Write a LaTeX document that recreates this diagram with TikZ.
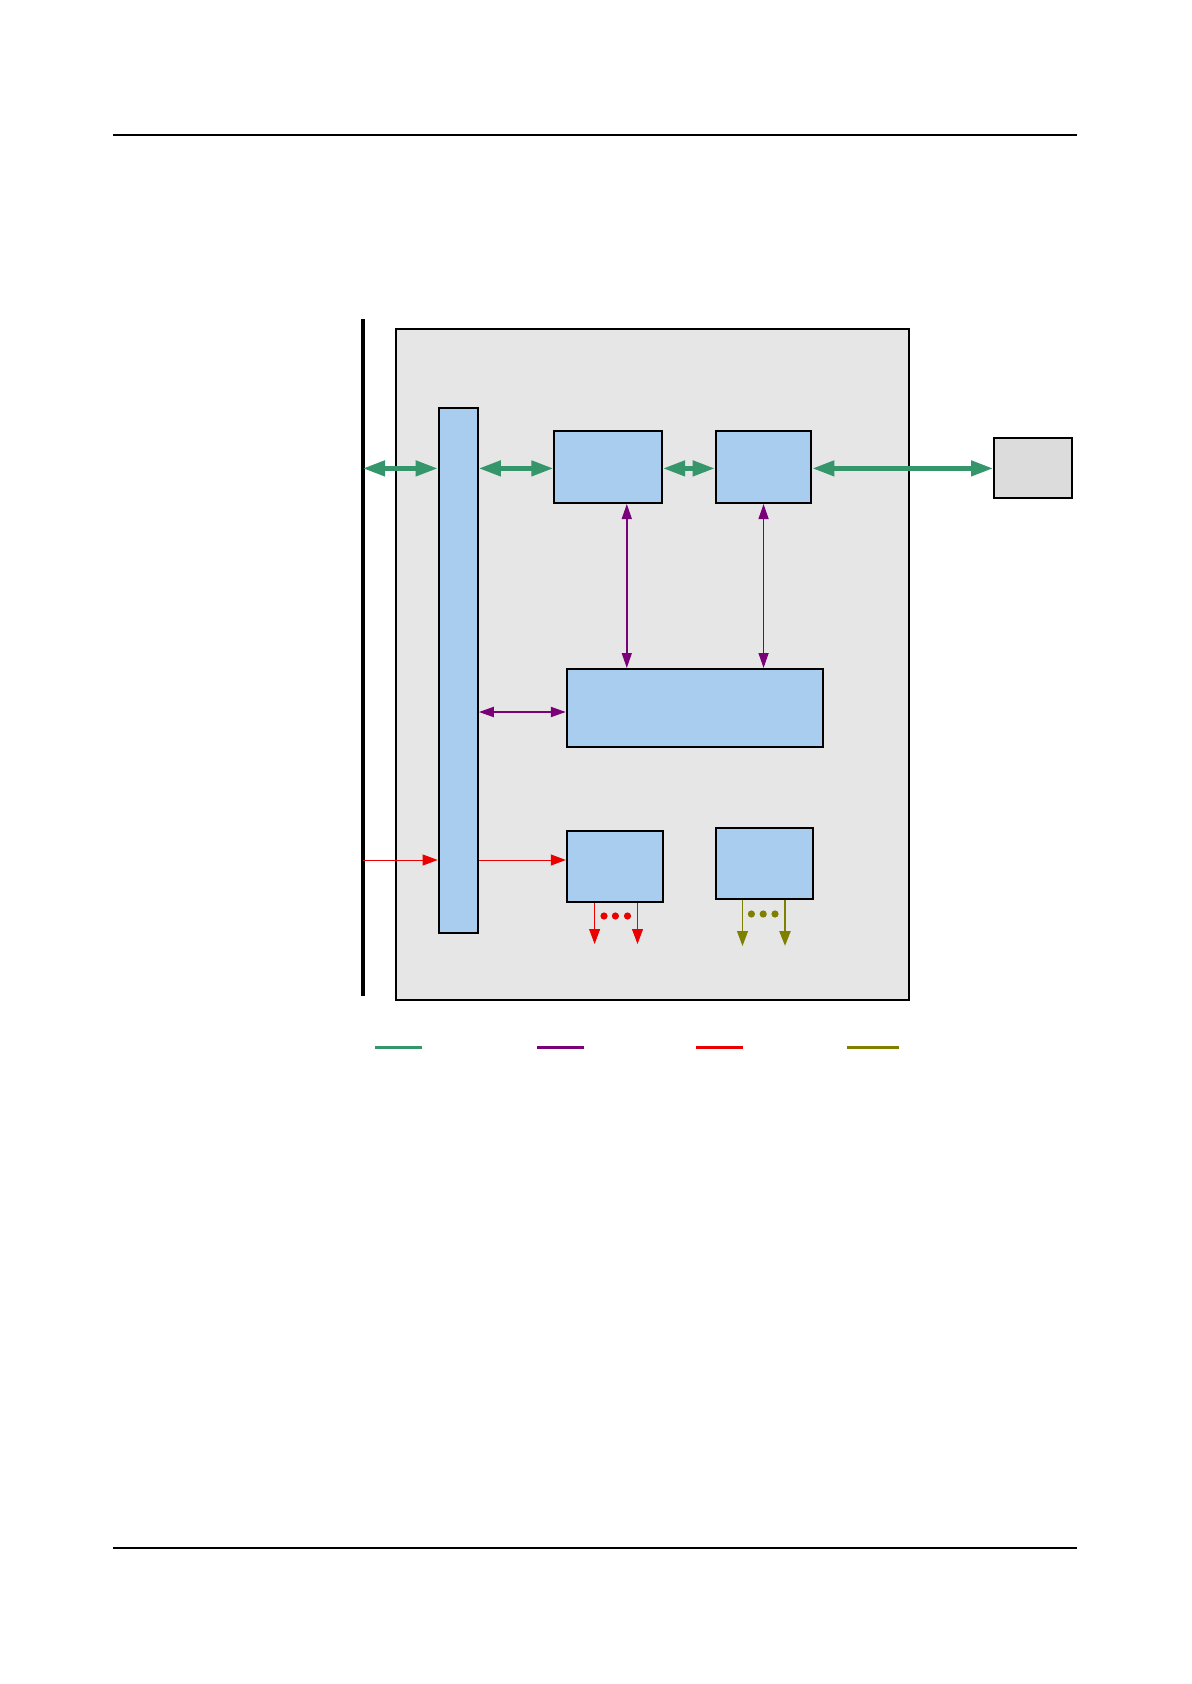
\documentclass[tikz,border=0pt]{standalone}
\usepackage{xcolor}
\usetikzlibrary{arrows.meta,positioning,backgrounds,calc}
\definecolor{databus}{RGB}{52,150,106}
\definecolor{ctrlbus}{RGB}{122,0,122}
\definecolor{clkline}{RGB}{235,0,0}
\definecolor{ioline}{RGB}{128,128,0}
\definecolor{blockblue}{RGB}{168,205,238}
\definecolor{chipgray}{RGB}{230,230,230}
\definecolor{extgray}{RGB}{220,220,220}

\begin{document}
\begin{tikzpicture}[
    x=0.5pt, y=-0.5pt,
    blk/.style={rectangle, draw, line width=1pt, fill=blockblue, inner sep=0pt},
    datalink/.style={{Triangle[length=11pt,width=7.5pt]}-{Triangle[length=11pt,width=7.5pt]}, line width=2.2pt, draw=databus},
    ctrllink/.style={{Triangle[length=7.5pt,width=5pt]}-{Triangle[length=7.5pt,width=5pt]}, draw=ctrlbus},
    clklink/.style={-{Triangle[length=7.5pt,width=5.5pt]}, line width=0.5pt, draw=clkline, fill=clkline},
    iolink/.style={-{Triangle[length=7.5pt,width=5.5pt]}, draw=ioline, fill=ioline},
    legendline/.style={line width=1.5pt},
]
\useasboundingbox (0,0) rectangle (1191,1684);

% === PAGE RULES ===
\draw[line width=0.6pt] (113,135) -- (1077,135);
\draw[line width=0.6pt] (113,1548) -- (1077,1548);

% === CHIP FRAME ===
\node[rectangle, draw, line width=1pt, fill=chipgray, minimum width=256.5pt, minimum height=335.5pt] (chip) at (652.2,664.5) {};

% === SYSTEM BUS ===
\coordinate (bustop) at (363,319);
\coordinate (busbot) at (363,996);
\draw[line width=1.6pt] (bustop) -- (busbot);

% === BLOCKS ===
\node[blk, minimum width=19.6pt, minimum height=262.5pt] (bar) at (458.25,670.5) {};
\node[blk, minimum width=53.9pt, minimum height=36pt] (core) at (608.2,467) {};
\node[blk, minimum width=47.85pt, minimum height=36pt] (phy) at (763.55,467) {};
\node[blk, minimum width=127.85pt, minimum height=39pt] (regs) at (694.65,708) {};
\node[blk, minimum width=48.2pt, minimum height=35.5pt] (clkgen) at (615,866.5) {};
\node[blk, minimum width=48.75pt, minimum height=35.5pt] (gpio) at (764.45,863.5) {};
\node[rectangle, draw, line width=1pt, fill=extgray, minimum width=39pt, minimum height=30pt] (ext) at (1033,468) {};

% === DATA ARROWS ===
\draw[datalink] ([yshift=-0.7pt]bustop |- core) -- ([yshift=-0.7pt]bar.west |- core);
\draw[datalink] ([yshift=-0.7pt]bar.east |- core) -- ([yshift=-0.7pt]core.west);
\draw[datalink] ([yshift=-0.7pt]core.east) -- ([yshift=-0.7pt]phy.west);
\draw[datalink] ([yshift=-0.7pt]phy.east) -- ([yshift=-0.7pt]phy.east -| ext.west);

% === CONTROL ARROWS ===
\draw[ctrllink, line width=0.7pt] ([xshift=9.3pt]core.south) -- ([xshift=9.3pt]core.south |- regs.north);
\draw[ctrllink, line width=0.7pt] (phy.south) -- (phy.south |- regs.north);
\draw[ctrllink, line width=1pt] ([yshift=-2pt]bar.east |- regs.west) -- ([yshift=-2pt]regs.west);

% === CLOCK ARROWS ===
\draw[clklink] ([yshift=3.25pt]bustop |- clkgen.west) -- ([yshift=3.25pt]bar.west |- clkgen.west);
\draw[clklink] ([yshift=3.25pt]bar.east |- clkgen.west) -- ([yshift=3.25pt]clkgen.west);
\coordinate (clkout1) at (594.6,944);
\coordinate (clkout2) at (637.5,944);
\draw[clklink] (clkgen.south -| clkout1) -- (clkout1);
\draw[clklink] (clkgen.south -| clkout2) -- (clkout2);
\foreach \dx in {604,615.4,627.5}
    \fill[clkline] (\dx,916) circle (1.8pt);

% === IO ARROWS ===
\coordinate (ioout1) at (742.5,946);
\coordinate (ioout2) at (785,946);
\draw[iolink, line width=0.5pt] (gpio.south -| ioout1) -- (ioout1);
\draw[iolink, line width=1.2pt] (gpio.south -| ioout2) -- (ioout2);
\foreach \dx in {751.4,763.2,775}
    \fill[ioline] (\dx,914) circle (1.8pt);

% === LEGEND ===
\draw[legendline, databus] (375,1047) -- (422,1047);
\draw[legendline, ctrlbus] (537,1047) -- (584,1047);
\draw[legendline, clkline] (696,1047) -- (743,1047);
\draw[legendline, ioline] (847,1047) -- (899,1047);

\end{tikzpicture}
\end{document}
